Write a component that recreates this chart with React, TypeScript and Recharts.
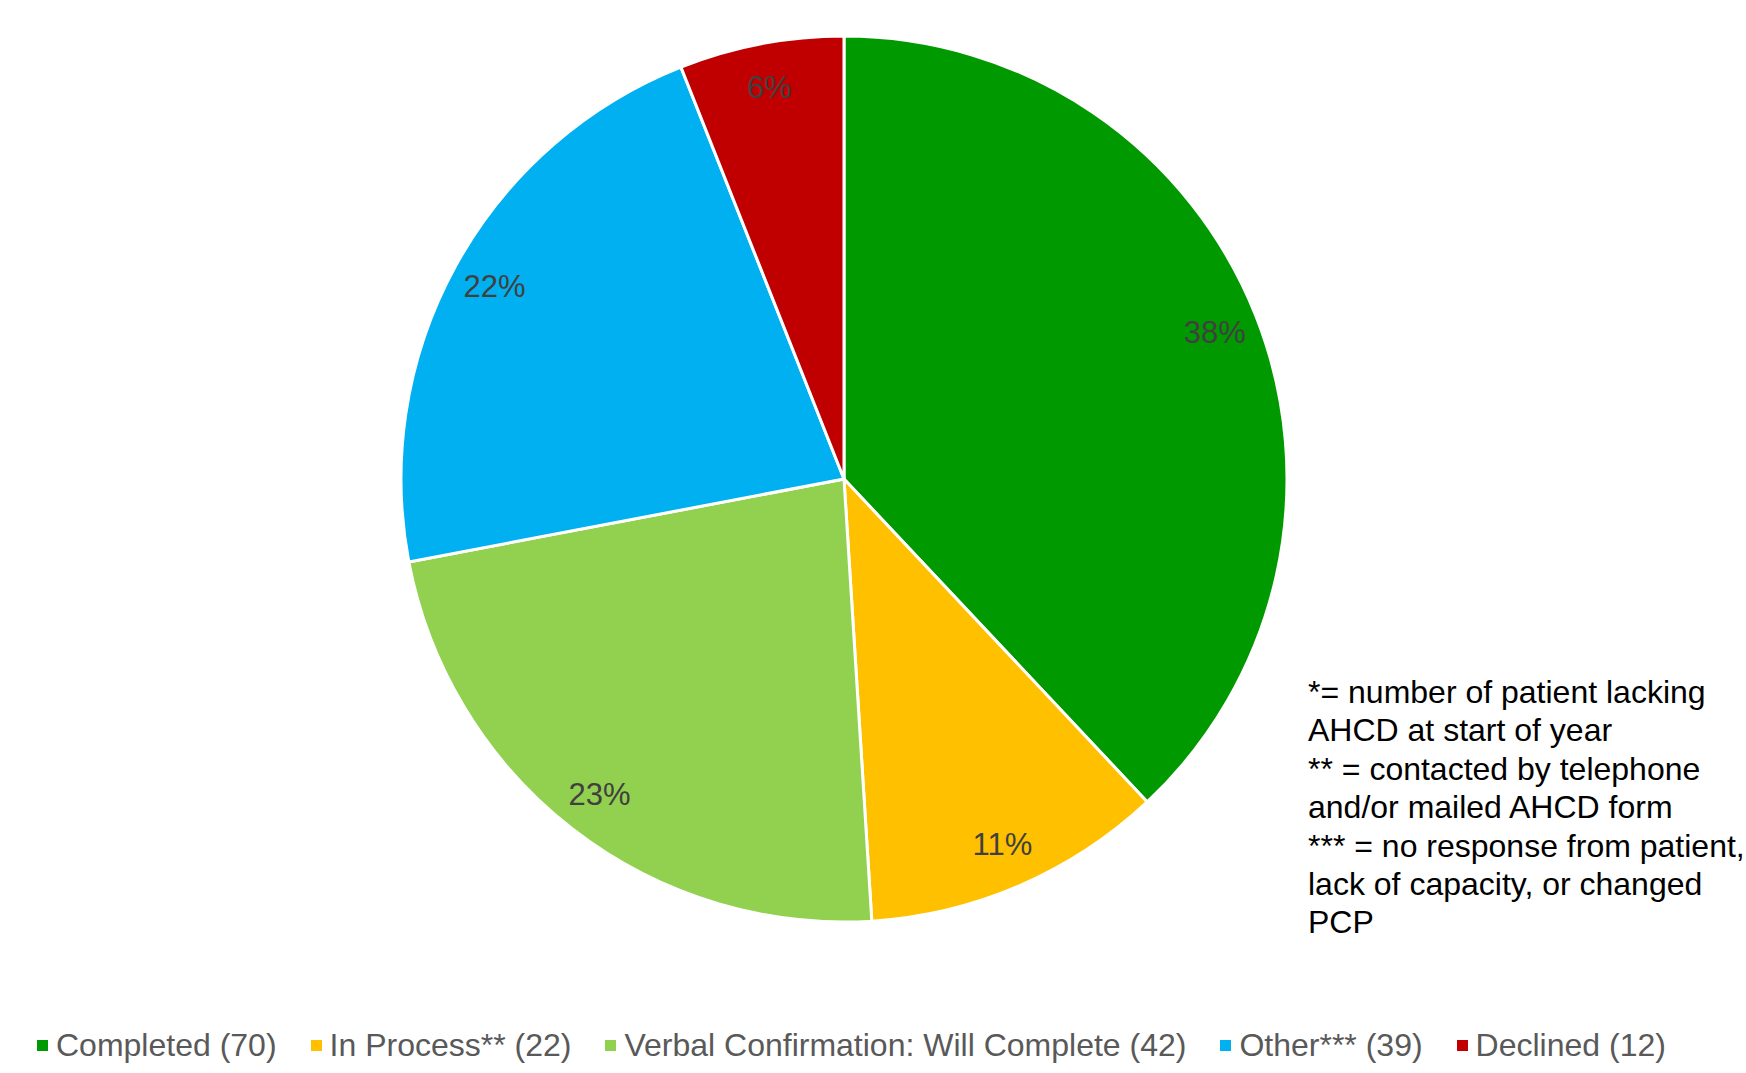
import { PieChart, Pie, Cell } from "recharts";

const categories = [
  "Completed (70)",
  "In Process** (22)",
  "Verbal Confirmation: Will Complete (42)",
  "Other*** (39)",
  "Declined (12)",
];
// share of each slice in percent, as shown on the data labels
const shares = [38, 11, 23, 22, 6];
const colors = ["#009900", "#FFC000", "#92D050", "#00B0F0", "#C00000"];

const noteLines = [
  "*= number of patient lacking",
  "AHCD at start of year",
  "** = contacted by telephone",
  "and/or mailed AHCD form",
  "*** = no response from patient,",
  "lack of capacity, or changed",
  "PCP",
];

const pieData = categories.map((name, i) => ({ name, value: shares[i], color: colors[i] }));

const RADIAN = Math.PI / 180;
const FONT = '"Liberation Sans", Arial, sans-serif';

const renderLabel = (props: any) => {
  const { cx, cy, midAngle, outerRadius, value } = props;
  const r = outerRadius * 0.9;
  const x = cx + r * Math.cos(-midAngle * RADIAN);
  const y = cy + r * Math.sin(-midAngle * RADIAN);
  return (
    <text x={x} y={y} fill="#404040" fontSize={31} fontFamily={FONT} textAnchor="middle" dominantBaseline="central">
      {`${value}%`}
    </text>
  );
};

export default function App() {
  return (
    <div style={{ position: "absolute", top: 0, left: 0, width: 1746, height: 1073, background: "#fff", overflow: "hidden" }}>
      <PieChart width={1746} height={1073} margin={{ top: 0, right: 0, bottom: 0, left: 0 }}>
        <Pie
          data={pieData}
          dataKey="value"
          cx={844}
          cy={479}
          outerRadius={443}
          startAngle={90}
          endAngle={-270}
          stroke="#fff"
          strokeWidth={3}
          label={renderLabel}
          labelLine={false}
          isAnimationActive={false}
        >
          {pieData.map((d) => (
            <Cell key={d.name} fill={d.color} />
          ))}
        </Pie>
      </PieChart>

      {/* legend */}
      <div style={{ position: "absolute", left: 37, top: 1027, display: "flex", gap: 34, fontFamily: FONT, fontSize: 32, color: "#595959", whiteSpace: "nowrap" }}>
        {pieData.map((d) => (
          <div key={d.name} style={{ display: "flex", alignItems: "center", gap: 8 }}>
            <div style={{ width: 11, height: 11, background: d.color }} />
            <span>{d.name}</span>
          </div>
        ))}
      </div>

      {/* footnotes */}
      <div style={{ position: "absolute", left: 1308, top: 673, fontFamily: FONT, fontSize: 32, lineHeight: "38.4px", color: "#000", whiteSpace: "nowrap" }}>
        {noteLines.map((l) => (
          <div key={l}>{l}</div>
        ))}
      </div>
    </div>
  );
}
